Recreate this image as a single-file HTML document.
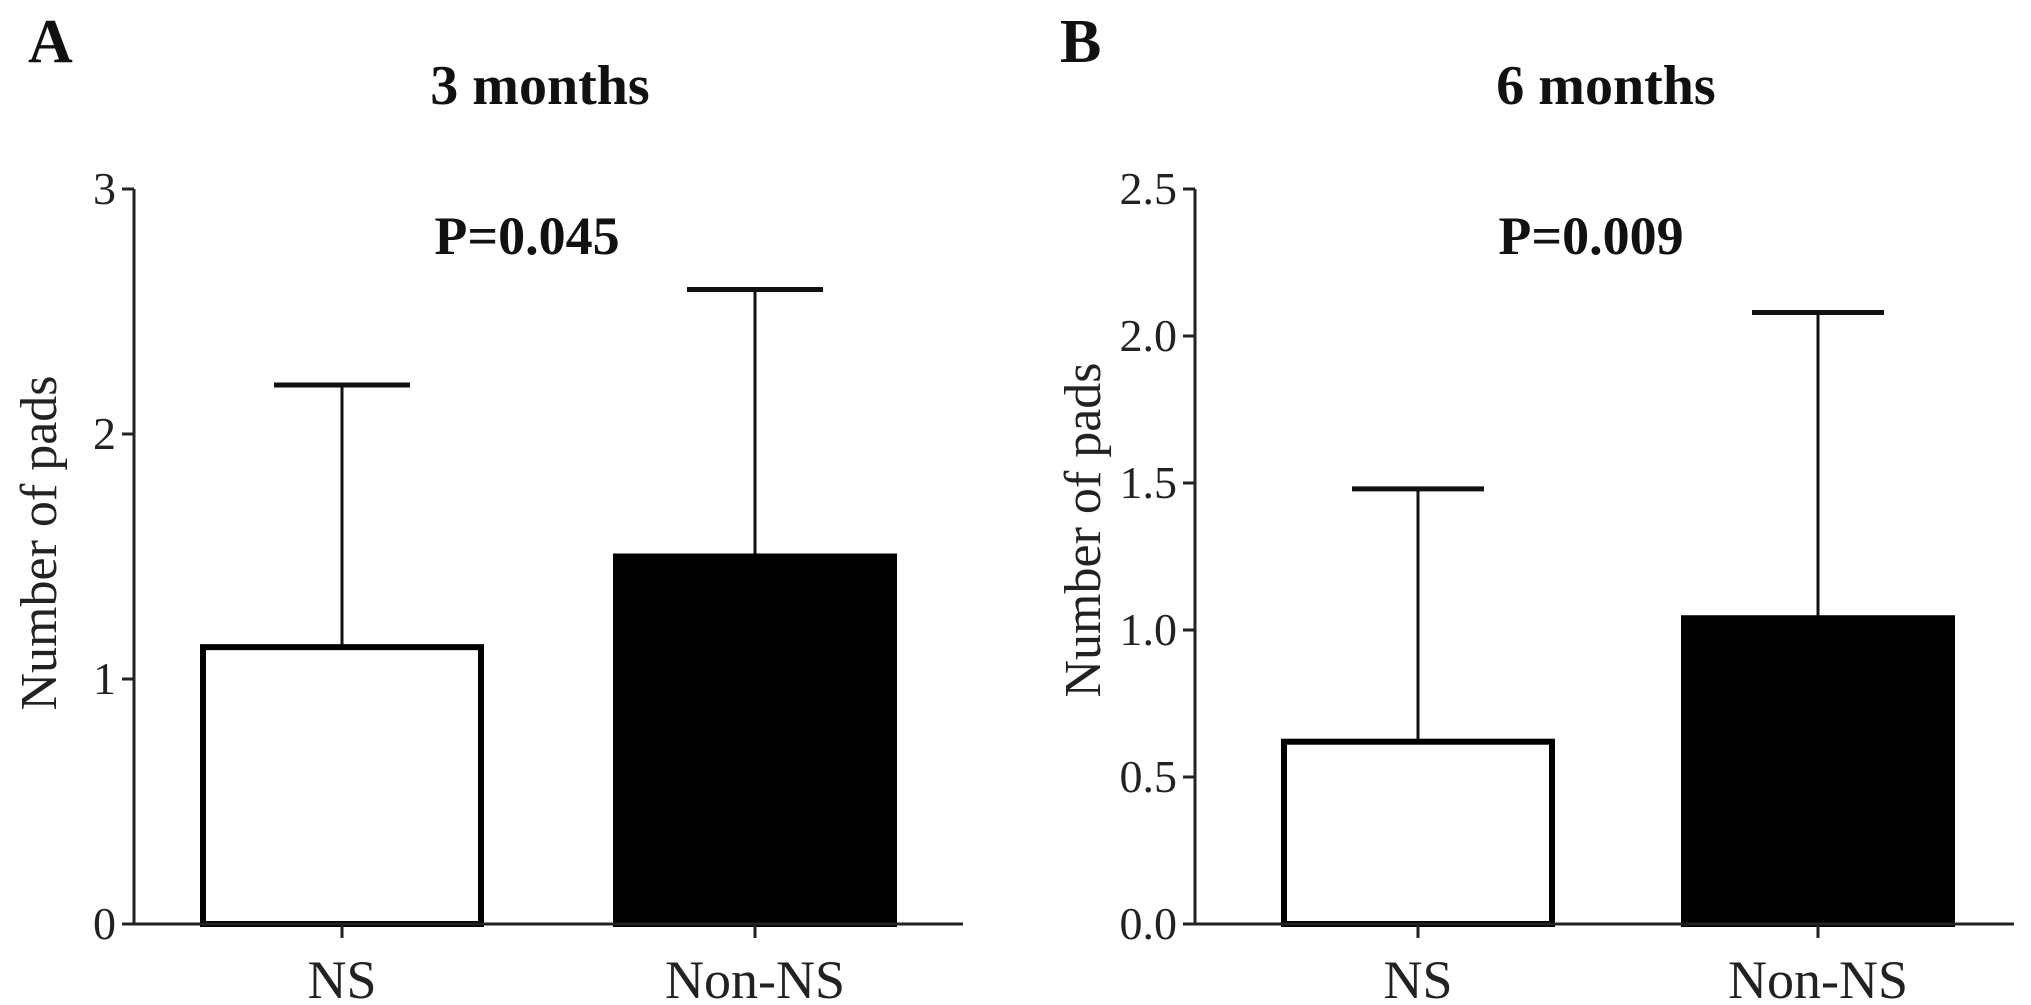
<!DOCTYPE html>
<html><head><meta charset="utf-8"><style>
html,body{margin:0;padding:0;background:#fff;}
svg{display:block;font-family:"Liberation Serif",serif;}
</style></head><body>
<svg id="c" width="2031" height="1005" viewBox="0 0 2031 1005"></svg>
<script>
const categories = ["NS","Non-NS"];
const meansA = [1.13, 1.5];
const errTopA = [2.2, 2.59];
const ticksA = [0,1,2,3];
const tickLabelsA = ["0","1","2","3"];
const meansB = [0.62, 1.04];
const errTopB = [1.48, 2.08];
const ticksB = [0,0.5,1,1.5,2,2.5];
const tickLabelsB = ["0.0","0.5","1.0","1.5","2.0","2.5"];

const NS='http://www.w3.org/2000/svg';
const svg=document.getElementById('c');
function mk(tag,attrs,parent){const e=document.createElementNS(NS,tag);for(const k in attrs)e.setAttribute(k,attrs[k]);(parent||svg).appendChild(e);return e;}

function panel(cfg){
  const g=mk('g',{});
  
  
  const y=v=>cfg.y0-(v/cfg.ymax)*(cfg.y0-cfg.ytop);
  cfg.means.forEach((m,i)=>{
    const cx=cfg.centers[i], hw=cfg.barHalf;
    const eb=mk('line',{x1:cx,x2:cx,y1:y(m),y2:y(cfg.err[i]),stroke:'#111','stroke-width':3},g);
    
    
    const cap=mk('line',{x1:cx-cfg.capHalf,x2:cx+cfg.capHalf,y1:y(cfg.err[i]),y2:y(cfg.err[i]),stroke:'#111','stroke-width':5},g);
    
    
    const r=mk('rect',{x:cx-hw,y:y(m),width:2*hw,height:y(0)-y(m),fill:i===0?'#fff':'#000',stroke:'#000','stroke-width':6},g);
    
    
    const tk=mk('line',{x1:cx,x2:cx,y1:cfg.y0,y2:cfg.y0+14,stroke:'#222','stroke-width':3},g);
    
    
    const t=mk('text',{x:cx,y:998,'text-anchor':'middle','font-size':54,fill:'#222'},g);
    t.textContent=categories[i];
    
    
  });
  const ya=mk('line',{x1:cfg.ax,x2:cfg.ax,y1:cfg.ytop,y2:cfg.y0+1.5,stroke:'#222','stroke-width':3},g);
  
  
  const xa=mk('line',{x1:cfg.ax-1.5,x2:cfg.axEnd,y1:cfg.y0,y2:cfg.y0,stroke:'#222','stroke-width':3},g);
  
  
  cfg.ticks.forEach((v,i)=>{
    const tk=mk('line',{x1:cfg.ax-12,x2:cfg.ax,y1:y(v),y2:y(v),stroke:'#222','stroke-width':3},g);
    
    
    const t=mk('text',{x:cfg.ax-18,y:y(v)+15,'text-anchor':'end','font-size':46,fill:'#222'},g);
    t.textContent=cfg.labels[i];
    
    
  });
  const yt=mk('text',{x:0,y:0,transform:`translate(${cfg.ytx},${cfg.yty}) rotate(-90)`,'text-anchor':'middle','font-size':52,fill:'#222'},g);
  yt.textContent='Number of pads';
  
  
  const ti=mk('text',{x:cfg.titleX,y:104,'text-anchor':'middle','font-size':56,'font-weight':'bold',fill:'#111'},g);
  ti.textContent=cfg.title;
  
  
  const p=mk('text',{x:cfg.pX,y:254,'text-anchor':'middle','font-size':54,'font-weight':'bold',fill:'#111'},g);
  p.textContent=cfg.p;
  
  
  const l=mk('text',{x:cfg.letterX,y:62,'font-size':62,'font-weight':'bold',fill:'#111'},g);
  l.textContent=cfg.letter;
  
  
}
panel({name:'panel-a',ax:134,axEnd:963,y0:924,ytop:189,ymax:3,means:meansA,err:errTopA,centers:[342,755],barHalf:139,capHalf:68,ticks:ticksA,labels:tickLabelsA,ytx:56,yty:543,title:'3 months',titleX:540,pX:527,p:'P=0.045',letter:'A',letterX:28});
panel({name:'panel-b',ax:1195,axEnd:2014,y0:924,ytop:189,ymax:2.5,means:meansB,err:errTopB,centers:[1418,1818],barHalf:134,capHalf:66,ticks:ticksB,labels:tickLabelsB,ytx:1100,yty:530,title:'6 months',titleX:1606,pX:1591,p:'P=0.009',letter:'B',letterX:1060});
</script>
</body></html>
